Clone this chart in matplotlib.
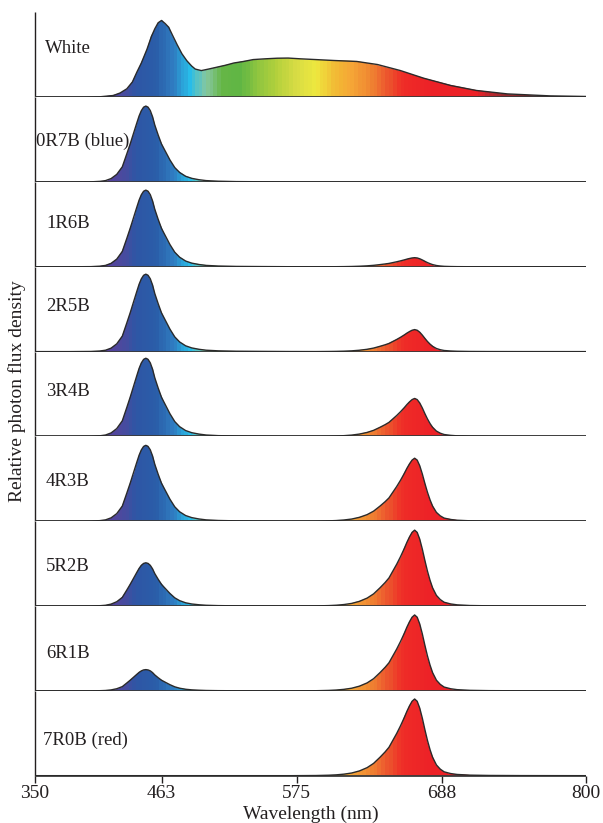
import numpy as np
import matplotlib.pyplot as plt
from matplotlib.colors import LinearSegmentedColormap, Normalize
from matplotlib.patches import Polygon

plt.rcParams['font.family'] = ['Liberation Serif', 'DejaVu Serif']

# x axis ticks and where each one sits along the axis (pixels from the left edge)
TICKS = [350, 463, 575, 688, 800]
TICK_POS = [0, 126.5, 261.5, 406.5, 551]

# white LED spectrum (relative photon flux)
WHITE_NM = [350, 395, 408, 420, 426, 432, 437, 441, 445, 450, 454, 457, 460, 463, 466,
            469, 472, 476, 480, 484, 488, 491, 496, 502, 509, 516, 523, 531, 539, 549,
            559, 568, 578, 590, 604, 622, 638, 656, 674, 695, 715, 739, 772, 800]
WHITE_REL = [0, 0, 0.005, 0.022, 0.055, 0.11, 0.20, 0.33, 0.45, 0.63, 0.80, 0.90, 0.98, 1.01, 0.97,
             0.92, 0.82, 0.69, 0.57, 0.48, 0.41, 0.37, 0.35, 0.37, 0.395, 0.42, 0.45, 0.47, 0.495, 0.505,
             0.513, 0.515, 0.505, 0.495, 0.483, 0.47, 0.43, 0.35, 0.25, 0.154, 0.088, 0.043, 0.017, 0.009]

# blue LED emission, normalised to its peak
BLUE_NM = [350, 380, 400, 408, 413, 418, 423, 428, 432, 435, 438, 441, 443, 445, 447, 449, 451,
           453, 455, 457, 460, 463, 467, 470, 474, 478, 483, 488, 494, 500, 510, 525, 545, 570]
BLUE_REL = [0, 0, 0.002, 0.008, 0.018, 0.045, 0.10, 0.20, 0.37, 0.50, 0.64, 0.78, 0.87, 0.94, 0.985, 1.0, 0.985,
            0.94, 0.86, 0.75, 0.62, 0.50, 0.38, 0.29, 0.19, 0.125, 0.075, 0.048, 0.03, 0.018, 0.01, 0.005, 0.003, 0.001]

# red LED emission, normalised to its peak
RED_NM = [590, 600, 606, 612, 618, 624, 630, 635, 640, 644, 647, 650, 653, 656, 659, 661, 663, 665,
          667, 669, 671, 673, 675, 677, 679, 681, 684, 687, 690, 695, 700, 710, 725, 750, 800]
RED_REL = [0.002, 0.006, 0.011, 0.02, 0.035, 0.062, 0.105, 0.16, 0.24, 0.31, 0.37, 0.46, 0.55, 0.65, 0.76, 0.84, 0.91, 0.97,
           1.0, 0.97, 0.88, 0.75, 0.60, 0.46, 0.34, 0.24, 0.14, 0.085, 0.05, 0.028, 0.016, 0.007, 0.003, 0.001, 0]

# red/blue mixtures and the level of each LED in them
MIX_LABELS = ["0R7B (blue)", "1R6B", "2R5B", "3R4B", "4R3B", "5R2B", "6R1B", "7R0B (red)"]
BLUE_AMP = [1.0, 1.01, 1.02, 1.03, 1.0, 0.57, 0.28, 0.0]
RED_AMP = [0.0, 0.12, 0.29, 0.50, 0.83, 1.0, 1.0, 1.01]

# wavelength -> colour stops used for the fill
COLOR_NM = [350, 410, 428, 440, 459, 472, 486, 500, 513, 528, 542, 558, 575, 590,
            607, 617, 632, 645, 658, 680, 716, 723, 736, 757, 800]
COLOR_HEX = ["#5b3c98", "#5b3f9c", "#4a4a9e", "#2e56a5", "#2a5ea9", "#2f7bc0", "#28bde9",
             "#86c7a0", "#66b646", "#5fb644", "#8dc440", "#b2d03c", "#d8dc44", "#eee83e",
             "#f2b634", "#f5a836", "#f08732", "#ec5a2e", "#ee2c27", "#ed2127", "#ed2127",
             "#c8262d", "#9a2a2e", "#7a2a2c", "#6e2a2b"]

LABEL_Y = [0.57, 0.48, 0.51, 0.53, 0.53, 0.47, 0.47, 0.44, 0.42]
LABEL_X = [0.018, 0.002, 0.02, 0.02, 0.02, 0.02, 0.02, 0.02, 0.015]

YTOP = 1.117

cmap = LinearSegmentedColormap.from_list(
    "spectrum", [((n - 350) / 450, c) for n, c in zip(COLOR_NM, COLOR_HEX)])
norm = Normalize(350, 800)


def forward(x):
    return np.interp(x, TICKS, TICK_POS)


def inverse(p):
    return np.interp(p, TICK_POS, TICKS)


spectra = [("White", np.array(WHITE_NM, float), np.array(WHITE_REL))]
for label, b, r in zip(MIX_LABELS, BLUE_AMP, RED_AMP):
    nm = np.r_[BLUE_NM, RED_NM].astype(float)
    y = np.r_[b * np.array(BLUE_REL), r * np.array(RED_REL)]
    spectra.append((label, nm, y))

fig, axes = plt.subplots(9, 1, sharex=True, figsize=(6.03, 8.23), dpi=100)
fig.subplots_adjust(left=0.058, right=0.972, top=0.985, bottom=0.0575, hspace=0)

edges = np.arange(350, 801, 3)
centers = (edges[:-1] + edges[1:]) / 2

for i, (ax, (label, nm, y)) in enumerate(zip(axes, spectra)):
    ax.set_xscale('function', functions=(forward, inverse))
    ax.set_xlim(350, 800)
    ax.set_ylim(0, YTOP)

    # coloured band, clipped to the area under the curve
    mesh = ax.pcolormesh(edges, [0, YTOP], centers[None, :], cmap=cmap, norm=norm,
                         shading='flat', zorder=1)
    area = Polygon(np.column_stack([np.r_[nm, nm[-1], nm[0]], np.r_[y, 0, 0]]),
                   closed=True, facecolor='none', edgecolor='none')
    ax.add_patch(area)
    mesh.set_clip_path(area)
    ax.plot(nm, y, color='#2a2a2a', lw=1.0, zorder=3, solid_joinstyle='round')

    ax.text(LABEL_X[i], LABEL_Y[i], label, transform=ax.transAxes, fontsize=13.5,
            ha='left', va='center', color='#231f20')

    for side in ('top', 'right'):
        ax.spines[side].set_visible(False)
    ax.spines['bottom'].set_color('#3a3a3a')
    ax.spines['bottom'].set_linewidth(1.3)
    ax.spines['bottom'].set_capstyle('butt')
    ax.spines['left'].set_color('#231f20')
    ax.spines['left'].set_linewidth(1.0)
    ax.spines['left'].set_capstyle('butt')
    ax.set_yticks([])
    ax.tick_params(axis='x', bottom=False, labelbottom=False)

ax = axes[-1]
ax.set_xticks(TICKS)
ax.set_xticklabels([str(t) for t in TICKS])
ax.tick_params(axis='x', bottom=True, labelbottom=True, direction='out', length=5,
               width=1.0, pad=1.5, labelsize=14, colors='#231f20')
ax.set_xlabel("Wavelength (nm)", fontsize=14, labelpad=3, color='#231f20')

fig.text(0.028, 0.525, "Relative photon flux density", rotation=90, fontsize=14,
         ha='center', va='center', color='#231f20')

fig.savefig("out.png", dpi=100)
